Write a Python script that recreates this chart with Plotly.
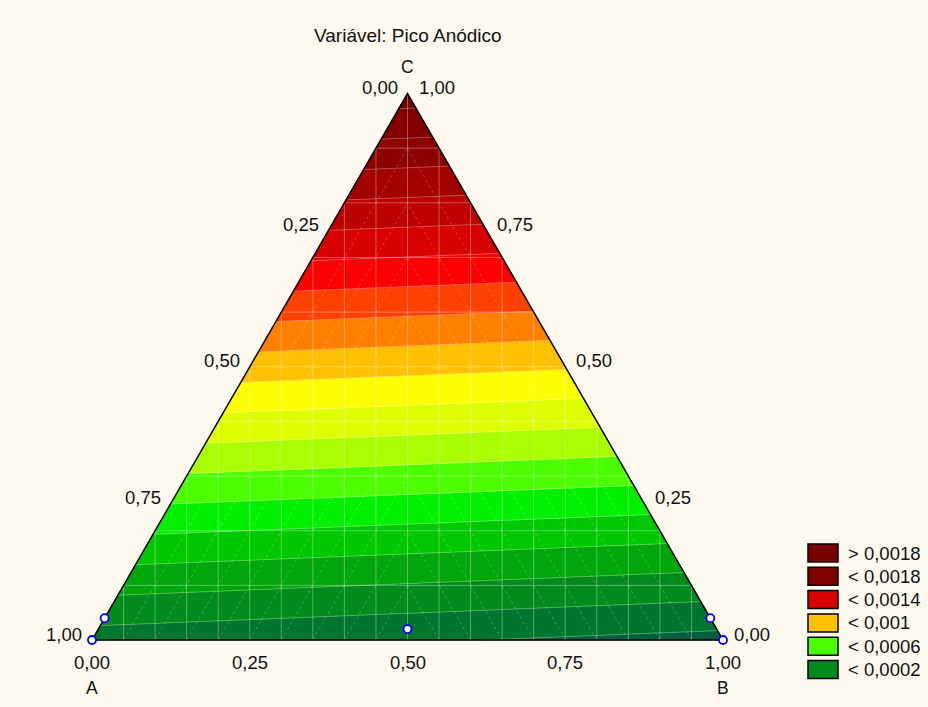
import numpy as np
import plotly.graph_objects as go

# ---------------- data ----------------
title_text = "Variável: Pico Anódico"
vertex_names = ["A", "B", "C"]
vertex_values = [0.0000525, -0.0000323, 0.00185]
# contour band edges
levels = [0.0000, 0.0001, 0.0002, 0.0003, 0.0004, 0.0005, 0.0006, 0.0007, 0.0008, 0.0009,
          0.0010, 0.0011, 0.0012, 0.0013, 0.0014, 0.0015, 0.0016, 0.0017, 0.0018]
# band colours, lowest band first (below first level ... above last level)
band_colors = ["#005F3F", "#00752D", "#008C1C", "#00A60A", "#00C800", "#00F000",
               "#4CFF00", "#AAFF00", "#DDFF00", "#FFFF00", "#FFC000", "#FF8000",
               "#FF4000", "#FF0000", "#D90000", "#BD0000", "#A30000", "#8E0000",
               "#820000", "#7A0000"]
legend_labels = ["> 0,0018", "< 0,0018", "< 0,0014", "< 0,001", "< 0,0006", "< 0,0002"]
legend_colors = ["#7A0000", "#800000", "#D90000", "#FFC000", "#4CFF00", "#008C1C"]
# design points (fractions of A, B, C)
pts_a = [1.00, 0.96, 0.49, 0.00, 0.00]
pts_b = [0.00, 0.00, 0.49, 0.96, 1.00]
pts_c = [0.00, 0.04, 0.02, 0.04, 0.00]
tick_values = [0.00, 0.25, 0.50, 0.75, 1.00]
tick_labels = ["0,00", "0,25", "0,50", "0,75", "1,00"]
grid_step = 0.05

# ---------------- geometry ----------------
H = np.sqrt(3) / 2


def to_xy(a, b, c):
    a, b, c = np.asarray(a, float), np.asarray(b, float), np.asarray(c, float)
    s = a + b + c
    b, c = b / s, c / s
    return b + c / 2, c * H


def f_xy(x, y):
    c = y / H
    b = x - c / 2
    a = 1 - b - c
    return a * vertex_values[0] + b * vertex_values[1] + c * vertex_values[2]


def clip(poly, lev, keep_above):
    out = []
    n = len(poly)
    for i in range(n):
        p, q = poly[i], poly[(i + 1) % n]
        fp, fq = f_xy(*p) - lev, f_xy(*q) - lev
        if not keep_above:
            fp, fq = -fp, -fq
        if fp >= 0:
            out.append(p)
        if (fp >= 0) != (fq >= 0):
            t = fp / (fp - fq)
            out.append((p[0] + t * (q[0] - p[0]), p[1] + t * (q[1] - p[1])))
    return out


tri = [to_xy(1, 0, 0), to_xy(0, 1, 0), to_xy(0, 0, 1)]
tri = [(float(p[0]), float(p[1])) for p in tri]

fig = go.Figure()

bounds = [-np.inf] + levels + [np.inf]
for i, col in enumerate(band_colors):
    lo, hi = bounds[i], bounds[i + 1]
    poly = list(tri)
    if np.isfinite(lo):
        poly = clip(poly, lo, True)
    if poly and np.isfinite(hi):
        poly = clip(poly, hi, False)
    if len(poly) < 3:
        continue
    xs = [p[0] for p in poly] + [poly[0][0]]
    ys = [p[1] for p in poly] + [poly[0][1]]
    fig.add_trace(go.Scatter(x=xs, y=ys, mode="lines", fill="toself", fillcolor=col,
                             line=dict(color=col, width=0.6), hoverinfo="skip",
                             showlegend=False))

# contour boundary lines (faint light lines)
cx, cy = [], []
for lev in levels:
    seg = []
    for i in range(3):
        p, q = tri[i], tri[(i + 1) % 3]
        fp, fq = f_xy(*p) - lev, f_xy(*q) - lev
        if (fp >= 0) != (fq >= 0):
            t = fp / (fp - fq)
            seg.append((p[0] + t * (q[0] - p[0]), p[1] + t * (q[1] - p[1])))
    if len(seg) == 2:
        cx += [seg[0][0], seg[1][0], None]
        cy += [seg[0][1], seg[1][1], None]
fig.add_trace(go.Scatter(x=cx, y=cy, mode="lines",
                         line=dict(color="rgba(255,255,255,0.28)", width=1),
                         hoverinfo="skip", showlegend=False))

# mesh grid: vertical, horizontal and half diagonals
n = int(round(1 / grid_step))
gx, gy = [], []
for k in range(1, n):
    x = k * grid_step
    ytop = min(x, 1 - x) * 2 * H
    gx += [x, x, None]
    gy += [0, ytop, None]
for k in range(1, n // 2):
    c = 2 * k * grid_step
    gx += [c / 2, 1 - c / 2, None]
    gy += [c * H, c * H, None]
fig.add_trace(go.Scatter(x=gx, y=gy, mode="lines",
                         line=dict(color="rgba(255,255,255,0.33)", width=1),
                         hoverinfo="skip", showlegend=False))
dx, dy = [], []
for k in range(1, n // 2):
    b = k * grid_step
    c_end = 1 - 2 * b
    x0, y0 = to_xy(1 - b, b, 0)
    x1, y1 = to_xy(1 - b - c_end, b, c_end)
    dx += [float(x0), float(x1), None]
    dy += [float(y0), float(y1), None]
    a = k * grid_step
    x0, y0 = to_xy(a, 1 - a, 0)
    x1, y1 = to_xy(a, 1 - a - c_end, c_end)
    dx += [float(x0), float(x1), None]
    dy += [float(y0), float(y1), None]
fig.add_trace(go.Scatter(x=dx, y=dy, mode="lines",
                         line=dict(color="rgba(255,255,255,0.30)", width=0.8, dash="dot"),
                         hoverinfo="skip", showlegend=False))

# triangle outline
fig.add_trace(go.Scatter(x=[p[0] for p in tri] + [tri[0][0]],
                         y=[p[1] for p in tri] + [tri[0][1]], mode="lines",
                         line=dict(color="black", width=1.5), hoverinfo="skip",
                         showlegend=False))

# design points
px, py = to_xy(pts_a, pts_b, pts_c)
fig.add_trace(go.Scatter(x=px, y=py, mode="markers",
                         marker=dict(symbol="circle", size=8, color="white",
                                     line=dict(color="#0000FF", width=1.8)),
                         showlegend=False, hoverinfo="skip"))

FONT = "Liberation Sans, Arial, sans-serif"
TXT = "#111111"
TS = 18.5
ann = []
for v, lab in zip(tick_values, tick_labels):
    # left edge: A fraction (0 at C, 1 at A)
    x, y = to_xy(v, 0, 1 - v)
    ann.append(dict(x=float(x), y=float(y), text=lab, xanchor="right", yanchor="middle",
                    xshift=-8, yshift=6, showarrow=False, font=dict(size=TS, color=TXT, family=FONT)))
    # right edge: C fraction (1 at C, 0 at B)
    x, y = to_xy(0, 1 - v, v)
    ann.append(dict(x=float(x), y=float(y), text=lab, xanchor="left", yanchor="middle",
                    xshift=9, yshift=6, showarrow=False, font=dict(size=TS, color=TXT, family=FONT)))
    # bottom edge: B fraction
    x, y = to_xy(1 - v, v, 0)
    ann.append(dict(x=float(x), y=float(y), text=lab, xanchor="center", yanchor="middle",
                    yshift=-22, showarrow=False, font=dict(size=TS, color=TXT, family=FONT)))

for name, (a, b, c), shift in zip(vertex_names, [(1, 0, 0), (0, 1, 0), (0, 0, 1)], [-48, -48, 27]):
    x, y = to_xy(a, b, c)
    ann.append(dict(x=float(x), y=float(y), text=name, xanchor="center", yanchor="middle",
                    yshift=shift, showarrow=False, font=dict(size=17.5, color=TXT, family=FONT)))

ann.append(dict(x=0.5, xref="x", y=1 - 35 / 707, yref="paper", text=title_text,
                xanchor="center", yanchor="middle", showarrow=False,
                font=dict(size=19, color=TXT, family=FONT)))

# legend (boxes + labels)
shapes = []
for i, (lab, col) in enumerate(zip(legend_labels, legend_colors)):
    top = 544 + i * 23.3
    shapes.append(dict(type="rect", xref="paper", yref="paper",
                       x0=808 / 928, x1=838 / 928, y0=1 - (top + 18) / 707, y1=1 - top / 707,
                       fillcolor=col, line=dict(color="black", width=1.5)))
    ann.append(dict(x=846 / 928, y=1 - (top + 9) / 707, xref="paper", yref="paper",
                    text=lab, xanchor="left", yanchor="middle", showarrow=False,
                    font=dict(size=TS, color=TXT, family=FONT)))

BG = "#FEF9EE"
fig.update_layout(width=928, height=707, margin=dict(l=0, r=0, t=0, b=0),
                  paper_bgcolor=BG, plot_bgcolor=BG, annotations=ann, shapes=shapes,
                  showlegend=False,
                  xaxis=dict(range=[-92 / 631, 836 / 631], visible=False, fixedrange=True),
                  yaxis=dict(range=[-67 / 631, 640 / 631], visible=False, fixedrange=True))

fig.write_html("out.html", config={"displayModeBar": False},
               post_script="document.body.style.margin='0px';document.body.style.overflow='hidden';"
                           "document.body.style.background='" + BG + "';")
